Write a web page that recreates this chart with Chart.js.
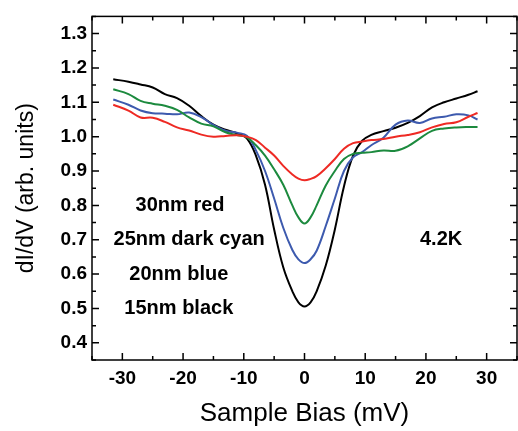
<!DOCTYPE html>
<html>
<head>
<meta charset="utf-8">
<script src="https://cdn.jsdelivr.net/npm/chart.js@4"></script>
<style>
  html, body { margin: 0; padding: 0; background: #fff; }
</style>
</head>
<body>
<canvas id="dos_chart" width="518" height="431"></canvas>
<script>
// sample bias (mV) and dI/dV for each film thickness
const bias  = [-31.5, -29, -27, -25, -23, -21, -19, -17, -15, -13, -11, -9.5, -8, -6.5, -5, -3.5, -2, -1, 0,
               1, 2, 3.5, 5, 6.5, 8, 9.5, 11, 13, 15, 17, 19, 21, 23, 25, 27, 28.5];
const red   = [1.093, 1.076, 1.056, 1.055, 1.043, 1.027, 1.018, 1.006, 1.000, 1.002, 1.004, 1.000, 0.990, 0.968, 0.945, 0.915, 0.890, 0.878, 0.873,
               0.877, 0.885, 0.908, 0.935, 0.965, 0.981, 0.986, 0.990, 0.993, 1.000, 1.005, 1.013, 1.027, 1.037, 1.042, 1.058, 1.069];
const green = [1.138, 1.124, 1.104, 1.096, 1.090, 1.078, 1.056, 1.038, 1.030, 1.013, 1.004, 0.998, 0.975, 0.945, 0.905, 0.860, 0.800, 0.765, 0.747,
               0.765, 0.800, 0.858, 0.900, 0.935, 0.950, 0.953, 0.955, 0.960, 0.959, 0.972, 0.995, 1.017, 1.024, 1.027, 1.028, 1.028];
const blue  = [1.108, 1.093, 1.076, 1.068, 1.067, 1.065, 1.070, 1.057, 1.034, 1.017, 1.011, 1.003, 0.960, 0.900, 0.820, 0.735, 0.670, 0.643, 0.632,
               0.643, 0.668, 0.740, 0.820, 0.900, 0.940, 0.955, 0.975, 0.997, 1.035, 1.047, 1.040, 1.053, 1.058, 1.065, 1.062, 1.050];
const black = [1.167, 1.160, 1.152, 1.143, 1.124, 1.112, 1.090, 1.060, 1.035, 1.020, 1.009, 0.995, 0.945, 0.860, 0.730, 0.620, 0.550, 0.518, 0.506,
               0.518, 0.550, 0.625, 0.730, 0.855, 0.945, 0.988, 1.005, 1.016, 1.026, 1.040, 1.060, 1.085, 1.100, 1.111, 1.122, 1.132];

const xTicks = [-30, -20, -10, 0, 10, 20, 30];
const yTicks = [0.4, 0.5, 0.6, 0.7, 0.8, 0.9, 1.0, 1.1, 1.2, 1.3];
const notes = ['30nm red', '25nm dark cyan', '20nm blue', '15nm black', '4.2K'];
const notePos = [[-20.5, 0.8], [-19, 0.7], [-20.7, 0.6], [-20.7, 0.5], [22.5, 0.7]];

const FONT = '"Liberation Sans", Arial, Helvetica, sans-serif';

const toPoints = (ys) => bias.map((b, i) => ({ x: b, y: ys[i] }));

// box frame with inward ticks on all four sides, plus the text notes
const frameAndNotes = {
  id: 'frameAndNotes',
  afterDatasetsDraw(chart) {
    const { ctx, chartArea: a, scales: { x, y } } = chart;
    ctx.save();
    ctx.strokeStyle = '#000';
    ctx.lineWidth = 1.5;
    ctx.strokeRect(a.left, a.top, a.right - a.left, a.bottom - a.top);

    ctx.beginPath();
    for (let v = -35; v <= 35; v += 5) {
      const px = x.getPixelForValue(v);
      const len = v % 10 === 0 ? 7 : 4;
      ctx.moveTo(px, a.bottom); ctx.lineTo(px, a.bottom - len);
      ctx.moveTo(px, a.top); ctx.lineTo(px, a.top + len);
    }
    for (let i = 7; i <= 27; i++) {
      const py = y.getPixelForValue(i * 0.05);
      const len = i % 2 === 0 ? 7 : 4;
      ctx.moveTo(a.left, py); ctx.lineTo(a.left + len, py);
      ctx.moveTo(a.right, py); ctx.lineTo(a.right - len, py);
    }
    ctx.stroke();

    ctx.fillStyle = '#000';
    ctx.font = 'bold 20px ' + FONT;
    ctx.textAlign = 'center';
    ctx.textBaseline = 'middle';
    notes.forEach((t, i) => {
      ctx.fillText(t, x.getPixelForValue(notePos[i][0]), y.getPixelForValue(notePos[i][1]));
    });
    ctx.restore();
  }
};

const ctx = document.getElementById('dos_chart');
new Chart(ctx, {
  type: 'line',
  data: {
    datasets: [
      { label: '30nm', data: toPoints(red),   borderColor: '#ee2a24' },
      { label: '25nm', data: toPoints(green), borderColor: '#1c8a3e' },
      { label: '20nm', data: toPoints(blue),  borderColor: '#3d5aae' },
      { label: '15nm', data: toPoints(black), borderColor: '#000000' }
    ]
  },
  options: {
    responsive: false,
    animation: false,
    layout: { padding: { top: 10, right: 1, left: 0, bottom: 0 } },
    plugins: { legend: { display: false }, tooltip: { enabled: false } },
    elements: {
      point: { radius: 0 },
      line: { borderWidth: 2, tension: 0.4, fill: false }
    },
    scales: {
      x: {
        type: 'linear',
        min: -35,
        max: 35,
        grid: { display: false, drawTicks: false },
        border: { display: false },
        afterBuildTicks: (s) => { s.ticks = xTicks.map(v => ({ value: v })); },
        afterFit: (s) => { s.height = 71; },
        ticks: {
          padding: 7,
          color: '#000',
          autoSkip: false,
          maxRotation: 0,
          font: { family: FONT, size: 19, weight: 'bold' },
          callback: (v) => String(v)
        },
        title: {
          display: true,
          text: 'Sample Bias (mV)',
          color: '#000',
          font: { family: FONT, size: 26 },
          padding: { top: 0, bottom: 2 }
        }
      },
      y: {
        min: 0.35,
        max: 1.35,
        grid: { display: false, drawTicks: false },
        border: { display: false },
        afterBuildTicks: (s) => { s.ticks = yTicks.map(v => ({ value: v })); },
        afterFit: (s) => { s.width = 92; },
        ticks: {
          padding: 5,
          color: '#000',
          autoSkip: false,
          font: { family: FONT, size: 19, weight: 'bold' },
          callback: (v) => v.toFixed(1)
        },
        title: {
          display: true,
          text: 'dI/dV (arb. units)',
          color: '#000',
          font: { family: FONT, size: 23 },
          padding: { top: 13, bottom: 0 }
        }
      }
    }
  },
  plugins: [frameAndNotes]
});
</script>
</body>
</html>
